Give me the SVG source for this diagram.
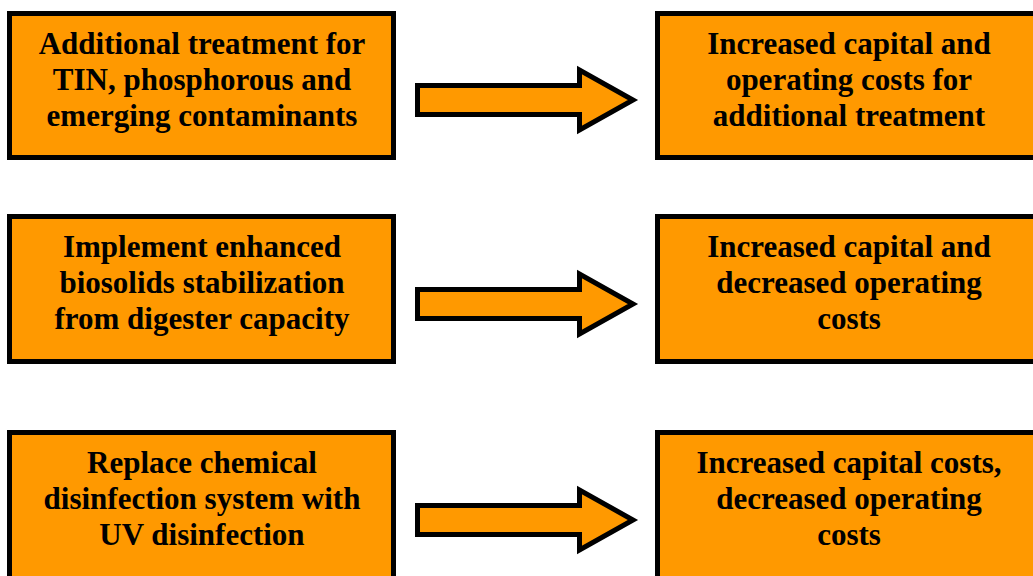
<svg xmlns="http://www.w3.org/2000/svg" width="1033" height="576" viewBox="0 0 1033 576">
  <style>
    .box { fill: #FF9900; stroke: #000000; stroke-width: 5; }
    .arrow { fill: #FF9900; stroke: #000000; stroke-width: 5; stroke-linejoin: miter; stroke-miterlimit: 10; }
    .lbl { font-family: "Liberation Serif", "DejaVu Serif", serif; font-weight: bold; font-size: 31px; fill: #000000; text-anchor: middle; }
  </style>
  <defs>
    <!-- block arrow, centred vertically on y=0 -->
    <path id="blockArrow" d="M417.5,-14.5 H579.5 V-30 L633,0 L579.5,30 V14.5 H417.5 Z"/>
  </defs>
  <rect width="1033" height="576" fill="#FFFFFF"/>

  <g id="connectors">
    <use href="#blockArrow" class="arrow" transform="translate(0,100)"/>
    <use href="#blockArrow" class="arrow" transform="translate(0,304)"/>
    <use href="#blockArrow" class="arrow" transform="translate(0,520)"/>
  </g>

  <g id="action-treatment">
    <rect class="box" x="9.5" y="13.5" width="384" height="144"/>
    <text class="lbl" x="202" y="54">Additional treatment for</text>
    <text class="lbl" x="202" y="90">TIN, phosphorous and</text>
    <text class="lbl" x="202" y="126">emerging contaminants</text>
  </g>

  <g id="cost-treatment">
    <rect class="box" x="657.5" y="13.5" width="390" height="144"/>
    <text class="lbl" x="849" y="54">Increased capital and</text>
    <text class="lbl" x="849" y="90">operating costs for</text>
    <text class="lbl" x="849" y="126">additional treatment</text>
  </g>

  <g id="action-biosolids">
    <rect class="box" x="9.5" y="216.5" width="384" height="145"/>
    <text class="lbl" x="202" y="257">Implement enhanced</text>
    <text class="lbl" x="202" y="293">biosolids stabilization</text>
    <text class="lbl" x="202" y="329">from digester capacity</text>
  </g>

  <g id="cost-biosolids">
    <rect class="box" x="657.5" y="216.5" width="390" height="145"/>
    <text class="lbl" x="849" y="257">Increased capital and</text>
    <text class="lbl" x="849" y="293">decreased operating</text>
    <text class="lbl" x="849" y="329">costs</text>
  </g>

  <g id="action-uv">
    <rect class="box" x="9.5" y="432.5" width="384" height="160"/>
    <text class="lbl" x="202" y="473">Replace chemical</text>
    <text class="lbl" x="202" y="509">disinfection system with</text>
    <text class="lbl" x="202" y="545">UV disinfection</text>
  </g>

  <g id="cost-uv">
    <rect class="box" x="657.5" y="432.5" width="390" height="160"/>
    <text class="lbl" x="849" y="473">Increased capital costs,</text>
    <text class="lbl" x="849" y="509">decreased operating</text>
    <text class="lbl" x="849" y="545">costs</text>
  </g>
</svg>
